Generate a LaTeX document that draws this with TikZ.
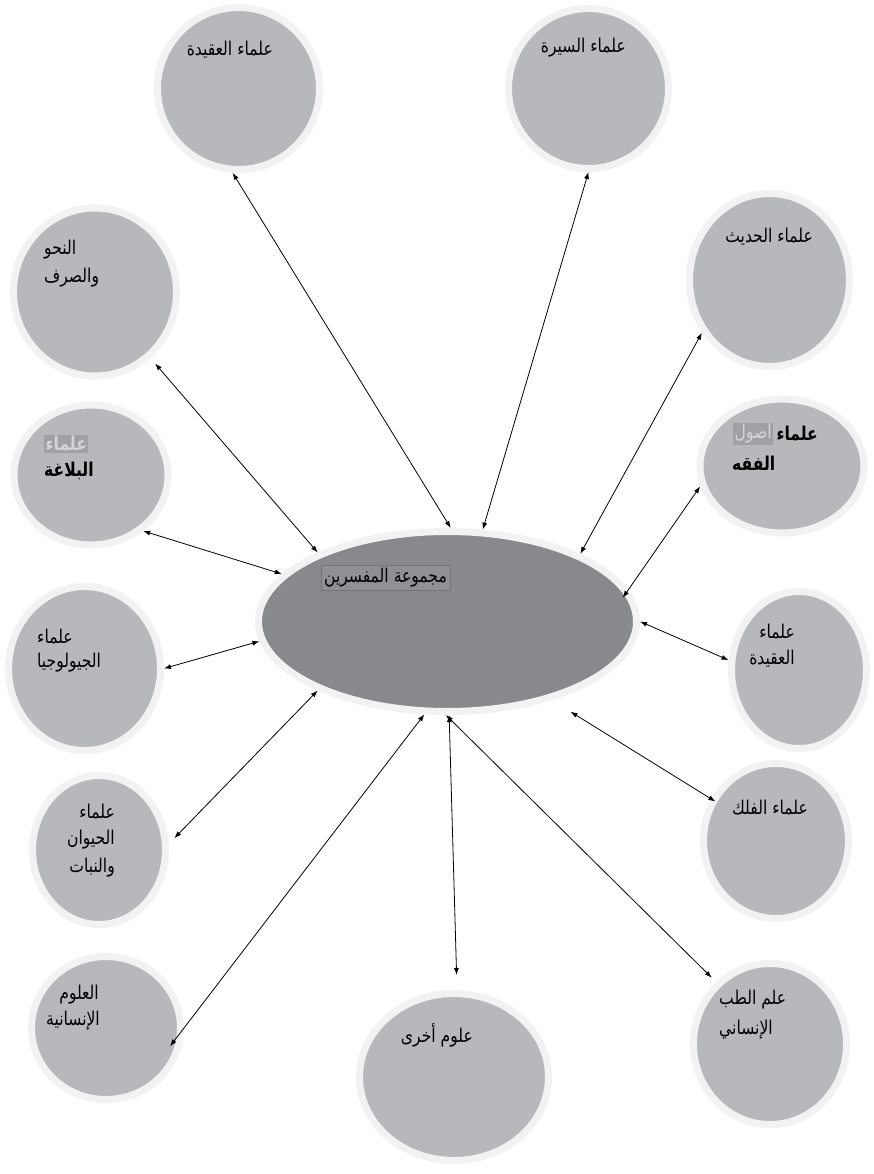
\documentclass[tikz,border=0pt]{standalone}
\usepackage{fontspec}
\usetikzlibrary{shapes.geometric,arrows.meta,shadows}
\newfontfamily\arabicfont[Script=Arabic, FakeStretch=0.82]{DejaVu Sans}
\TeXXeTstate=1
\definecolor{ringc}{HTML}{F2F2F3}
\definecolor{diskc}{HTML}{B7B8BC}
\definecolor{hubc}{HTML}{88898D}
\definecolor{hlbg}{HTML}{A0A1A5}
\definecolor{hltx}{HTML}{D4D4D6}
\definecolor{hubbox}{HTML}{8F9094}
\begin{document}
\begin{tikzpicture}[x=1pt,y=-1pt,
  disk/.style={ellipse, draw=ringc, line width=7pt, fill=diskc, inner sep=0pt,
    drop shadow={opacity=0.16, shadow xshift=1.5pt, shadow yshift=-3pt}},
  hub/.style={disk, fill=hubc},
  lbl/.style={inner sep=0pt, font=\fontsize{19}{22}\selectfont\arabicfont},
  hl/.style={lbl, fill=hlbg, text=hltx, inner sep=1.5pt},
  link/.style={{Latex[length=7pt,width=5pt]}-{Latex[length=7pt,width=5pt]}, line width=0.8pt}
]
\useasboundingbox (0,0) rectangle (874,1174);
\fill[white] (0,0) rectangle (874,1174);

% circles
\node[disk, minimum width=162pt, minimum height=162pt] (aq1) at (238.5,88.5) {};
\node[disk, minimum width=160pt, minimum height=160pt] (sira) at (588.5,88.5) {};
\node[disk, minimum width=160pt, minimum height=173pt] (hadith) at (769.5,280) {};
\node[disk, minimum width=163pt, minimum height=168pt] (nahw) at (95,292) {};
\node[disk, minimum width=154pt, minimum height=140pt] (balagha) at (91,475) {};
\node[disk, minimum width=164pt, minimum height=134pt] (usul) at (782,466) {};
\node[disk, minimum width=135pt, minimum height=157pt] (aq2) at (799,670) {};
\node[disk, minimum width=145pt, minimum height=155pt] (falak) at (776,841) {};
\node[disk, minimum width=153pt, minimum height=161pt] (tibb) at (770,1044) {};
\node[disk, minimum width=189pt, minimum height=167pt] (ukhra) at (454,1077) {};
\node[disk, minimum width=149pt, minimum height=143pt] (insaniya) at (106,1028) {};
\node[disk, minimum width=133pt, minimum height=149pt] (hayawan) at (99,850) {};
\node[disk, minimum width=152pt, minimum height=164pt] (geo) at (84.5,668.5) {};
\node[hub, minimum width=378pt, minimum height=180pt] (hub) at (447.5,621.5) {};

% labels
\node[lbl, anchor=east] (taq1) at (273,50) {\beginR علماء العقيدة\endR};
\node[lbl, anchor=east] (tsira) at (626,48) {\beginR علماء السيرة\endR};
\node[lbl, anchor=east] (thadith) at (813,237) {\beginR علماء الحديث\endR};
\node[lbl, anchor=west] (tnahw1) at (44,250) {\beginR النحو\endR};
\node[lbl, anchor=west] (tnahw2) at (44,278) {\beginR والصرف\endR};
\node[hl, anchor=west] (tbal1) at (44,444) {\bfseries\beginR علماء\endR};
\node[lbl, anchor=west] (tbal2) at (44,471) {\bfseries\beginR البلاغة\endR};
\node[lbl, anchor=east] (tusul1) at (818,434) {\bfseries\beginR علماء\endR};
\node[hl, anchor=east] (tusul1h) at ([xshift=-3pt]tusul1.west) {\beginR اصول\endR};
\node[lbl, anchor=west] (tusul2) at (732,463) {\bfseries\beginR الفقه\endR};
\node[lbl, anchor=east] (taq2a) at (795,632) {\beginR علماء\endR};
\node[lbl, anchor=east] (taq2b) at (795,659) {\beginR العقيدة\endR};
\node[lbl, anchor=east] (tfalak) at (808,808) {\beginR علماء الفلك\endR};
\node[lbl, anchor=west] (ttibb1) at (719,1000) {\beginR علم الطب\endR};
\node[lbl, anchor=west] (ttibb2) at (719,1030) {\beginR الإنساني\endR};
\node[lbl, anchor=east] (tukhra) at (473,1035) {\beginR علوم أخرى\endR};
\node[lbl, anchor=east] (tins1) at (99,995) {\beginR العلوم\endR};
\node[lbl, anchor=east] (tins2) at (100,1021) {\beginR الإنسانية\endR};
\node[lbl, anchor=east] (thay1) at (115,812) {\beginR علماء\endR};
\node[lbl, anchor=east] (thay2) at (115,840) {\beginR الحيوان\endR};
\node[lbl, anchor=east] (thay3) at (115,868) {\beginR والنبات\endR};
\node[lbl, anchor=west] (tgeo1) at (37,637) {\beginR علماء\endR};
\node[lbl, anchor=west] (tgeo2) at (37,663) {\beginR الجيولوجيا\endR};
\node[lbl, anchor=west, fill=hubbox, draw=hubc!85!black, line width=0.3pt, inner sep=3pt,
      font=\fontsize{19}{22}\selectfont\arabicfont] (thub) at (321,578) {\beginR مجموعة المفسرين\endR};

% connectors
\draw[link] (aq1.266.4) -- (hub.88.5);
\draw[link] (sira.270) -- (hub.69.3);
\draw[link] (hadith.218.4) -- (hub.27.7);
\draw[link, shorten <=7pt] (nahw.310.6) -- (hub.152.8);
\draw[link] (balagha.313.5) -- (hub.164);
\draw[link, shorten >=-10pt] (usul.194.7) -- (hub.10.5);
\draw[link] (aq2.172) -- (hub.0);
\draw[link] (geo.0) -- (hub.186.1);
\draw[link, shorten <=8pt] (hayawan.5) -- (hub.208);
\draw[link, shorten <=-23pt] (insaniya.0) -- (hub.256.5);
\draw[link, shorten <=15pt] (ukhra.88) -- (hub.271.5);
\draw[link, shorten <=6pt] (tibb.131.3) -- (hub.269.7);
\draw[link, shorten <=-5pt, shorten >=22pt] (falak.147.4) -- (hub.323.4);
\end{tikzpicture}
\end{document}
